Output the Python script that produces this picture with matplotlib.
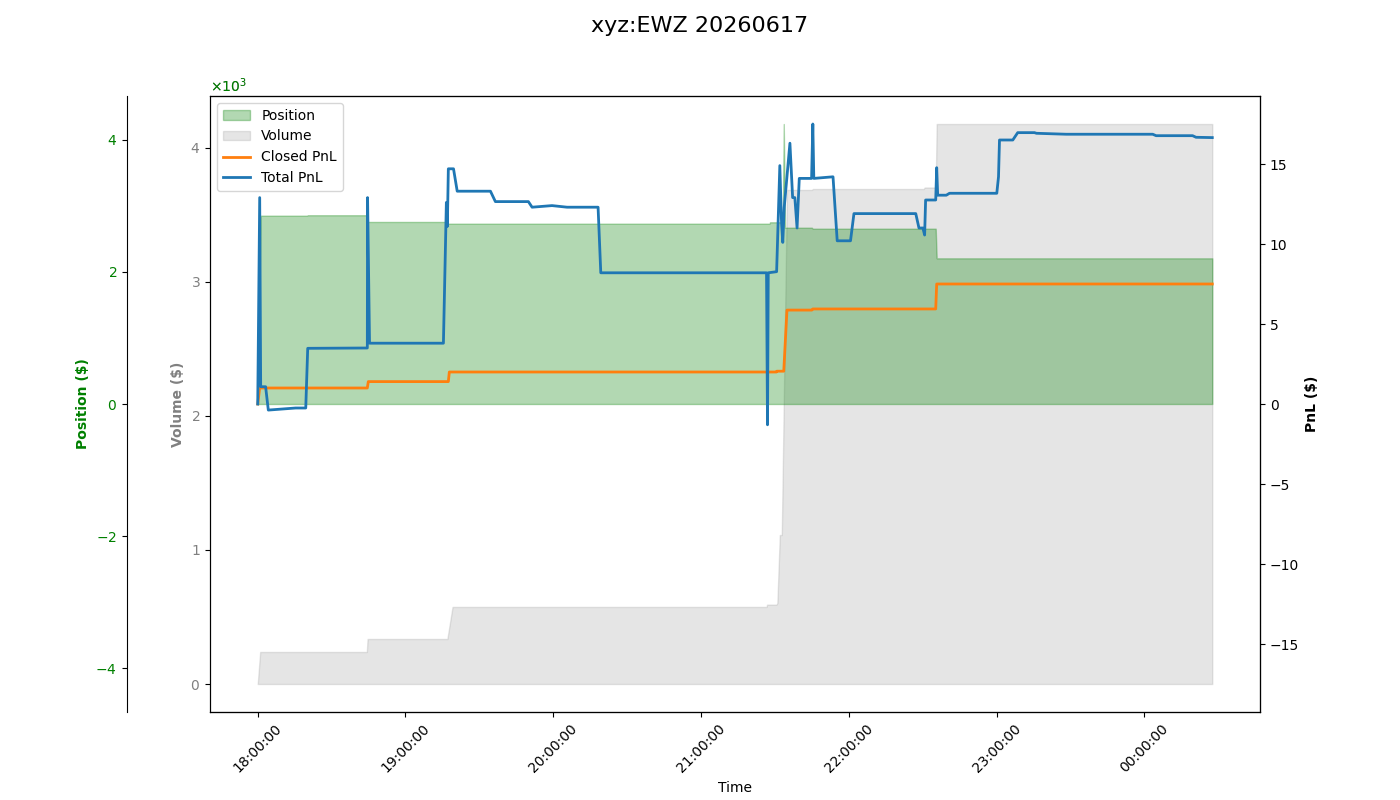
import numpy as np
import pandas as pd
import matplotlib
matplotlib.use("Agg")
import matplotlib.pyplot as plt
import matplotlib.dates as mdates
from matplotlib.ticker import ScalarFormatter

# temps en minutes depuis 18:00
base = pd.Timestamp("2026-06-17 18:00:00")

pos_t = [0, 1.2, 20.0, 20.3, 44.5, 44.6, 76.6, 76.9, 207.8, 208.0, 213.2, 213.6, 214.1, 225.0, 225.4, 275.3, 275.7, 387.6]
pos_v = [0, 2853, 2853, 2860, 2860, 2758, 2758, 2732, 2732, 2753, 2753, 4242, 2671, 2671, 2656, 2656, 2207, 2207]

vol_t = [0, 1.0, 44.3, 44.6, 77.0, 79.1, 206.6, 206.8, 210.6, 211.0, 212.0, 212.8, 214.9, 225.0, 225.4, 270.4, 270.8, 275.3, 275.7, 387.6]
vol_v = [0, 239, 239, 336, 336, 575, 575, 592, 592, 604, 1112, 1112, 3687, 3687, 3694, 3694, 3705, 3705, 4179, 4179]

closed_t = [0, 0.8, 44.5, 44.9, 77.4, 77.8, 210.6, 210.8, 213.6, 214.9, 225.0, 225.4, 275.3, 275.7, 387.6]
closed_v = [0, 1.0, 1.0, 1.4, 1.4, 2.0, 2.0, 2.05, 2.05, 5.87, 5.87, 5.94, 5.94, 7.5, 7.5]

total_t = [0, 0.8, 1.2, 3.2, 4.3, 15.4, 19.5, 20.3, 44.5, 44.6, 45.4, 75.4, 76.6, 77.0, 77.4, 79.5, 81.0,
           94.5, 96.5, 109.9, 111.4, 119.5, 125.6, 138.2, 139.3, 206.6, 207.0, 207.3, 210.7, 212.0, 212.7,
           213.2, 213.8, 216.1, 217.2, 218.1, 219.0, 219.9, 224.9, 225.4, 225.8, 233.6, 235.3, 240.7, 242.1,
           267.2, 268.5, 270.1, 270.8, 271.2, 275.3, 275.7, 276.1, 279.6, 280.9, 300.1, 300.8, 301.2, 306.6,
           308.6, 315.4, 316.2, 328.3, 363.4, 364.8, 379.6, 381.0, 387.6]
total_v = [0, 12.9, 1.08, 1.08, -0.38, -0.25, -0.25, 3.48, 3.5, 12.9, 3.8, 3.8, 12.6, 11.1, 14.7, 14.7, 13.3,
           13.3, 12.65, 12.65, 12.3, 12.4, 12.3, 12.3, 8.2, 8.2, -1.3, 8.2, 8.27, 14.9, 11.3,
           10.1, 12.3, 16.3, 12.9, 12.9, 11.0, 14.1, 14.1, 17.5, 14.1, 14.2, 10.2, 10.2, 11.9,
           11.9, 11.0, 11.0, 10.56, 12.75, 12.75, 14.77, 13.05, 13.05, 13.17, 13.17, 14.2, 16.5, 16.5,
           16.96, 16.96, 16.92, 16.86, 16.86, 16.77, 16.77, 16.67, 16.65]


def to_time(t):
    return base + pd.to_timedelta(np.array(t), unit="min")


fig, ax = plt.subplots(figsize=(14, 8), dpi=100)
fig.subplots_adjust(left=0.15, right=0.9, top=0.88, bottom=0.11)
fig.suptitle("xyz:EWZ 20260617", fontsize=16)

# volume (axe principal)
ax.fill_between(to_time(vol_t), 0, vol_v, color="gray", alpha=0.2, label="Volume")
ax.set_ylabel("Volume ($)", color="gray", fontweight="bold")
ax.tick_params(axis="y", labelcolor="gray")
ax.set_xlabel("Time")
fmt_vol = ScalarFormatter(useMathText=True)
fmt_vol.set_powerlimits((0, 0))
ax.yaxis.set_major_formatter(fmt_vol)

# position
ax_pos = ax.twinx()
ax_pos.spines["left"].set_position(("outward", 60))
ax_pos.spines["left"].set_visible(True)
ax_pos.yaxis.set_label_position("left")
ax_pos.yaxis.set_ticks_position("left")
ax_pos.fill_between(to_time(pos_t), 0, pos_v, color="green", alpha=0.3, label="Position")
lim = 1.1 * max(abs(np.array(pos_v)))
ax_pos.set_ylim(-lim, lim)
ax_pos.set_ylabel("Position ($)", color="green", fontweight="bold")
ax_pos.tick_params(axis="y", labelcolor="green")
fmt_pos = ScalarFormatter(useMathText=True)
fmt_pos.set_powerlimits((0, 0))
ax_pos.yaxis.set_major_formatter(fmt_pos)
ax.yaxis.get_offset_text().set_visible(False)
ax_pos.yaxis.get_offset_text().set_color("green")

# PnL
ax_pnl = ax.twinx()
ax_pnl.plot(to_time(closed_t), closed_v, color="tab:orange", lw=2, label="Closed PnL")
ax_pnl.plot(to_time(total_t), total_v, color="tab:blue", lw=2, label="Total PnL")
lim_pnl = 1.1 * max(abs(np.array(total_v)))
ax_pnl.set_ylim(-lim_pnl, lim_pnl)
ax_pnl.set_ylabel("PnL ($)", fontweight="bold")

ax.xaxis.set_major_locator(mdates.HourLocator())
ax.xaxis.set_major_formatter(mdates.DateFormatter("%H:%M:%S"))
for lab in ax.get_xticklabels():
    lab.set_rotation(45)

handles = []
labels = []
for a in (ax_pos, ax, ax_pnl):
    h, l = a.get_legend_handles_labels()
    handles += h
    labels += l
ax_pnl.legend(handles, labels, loc="upper left")

fig.savefig("out.png")
